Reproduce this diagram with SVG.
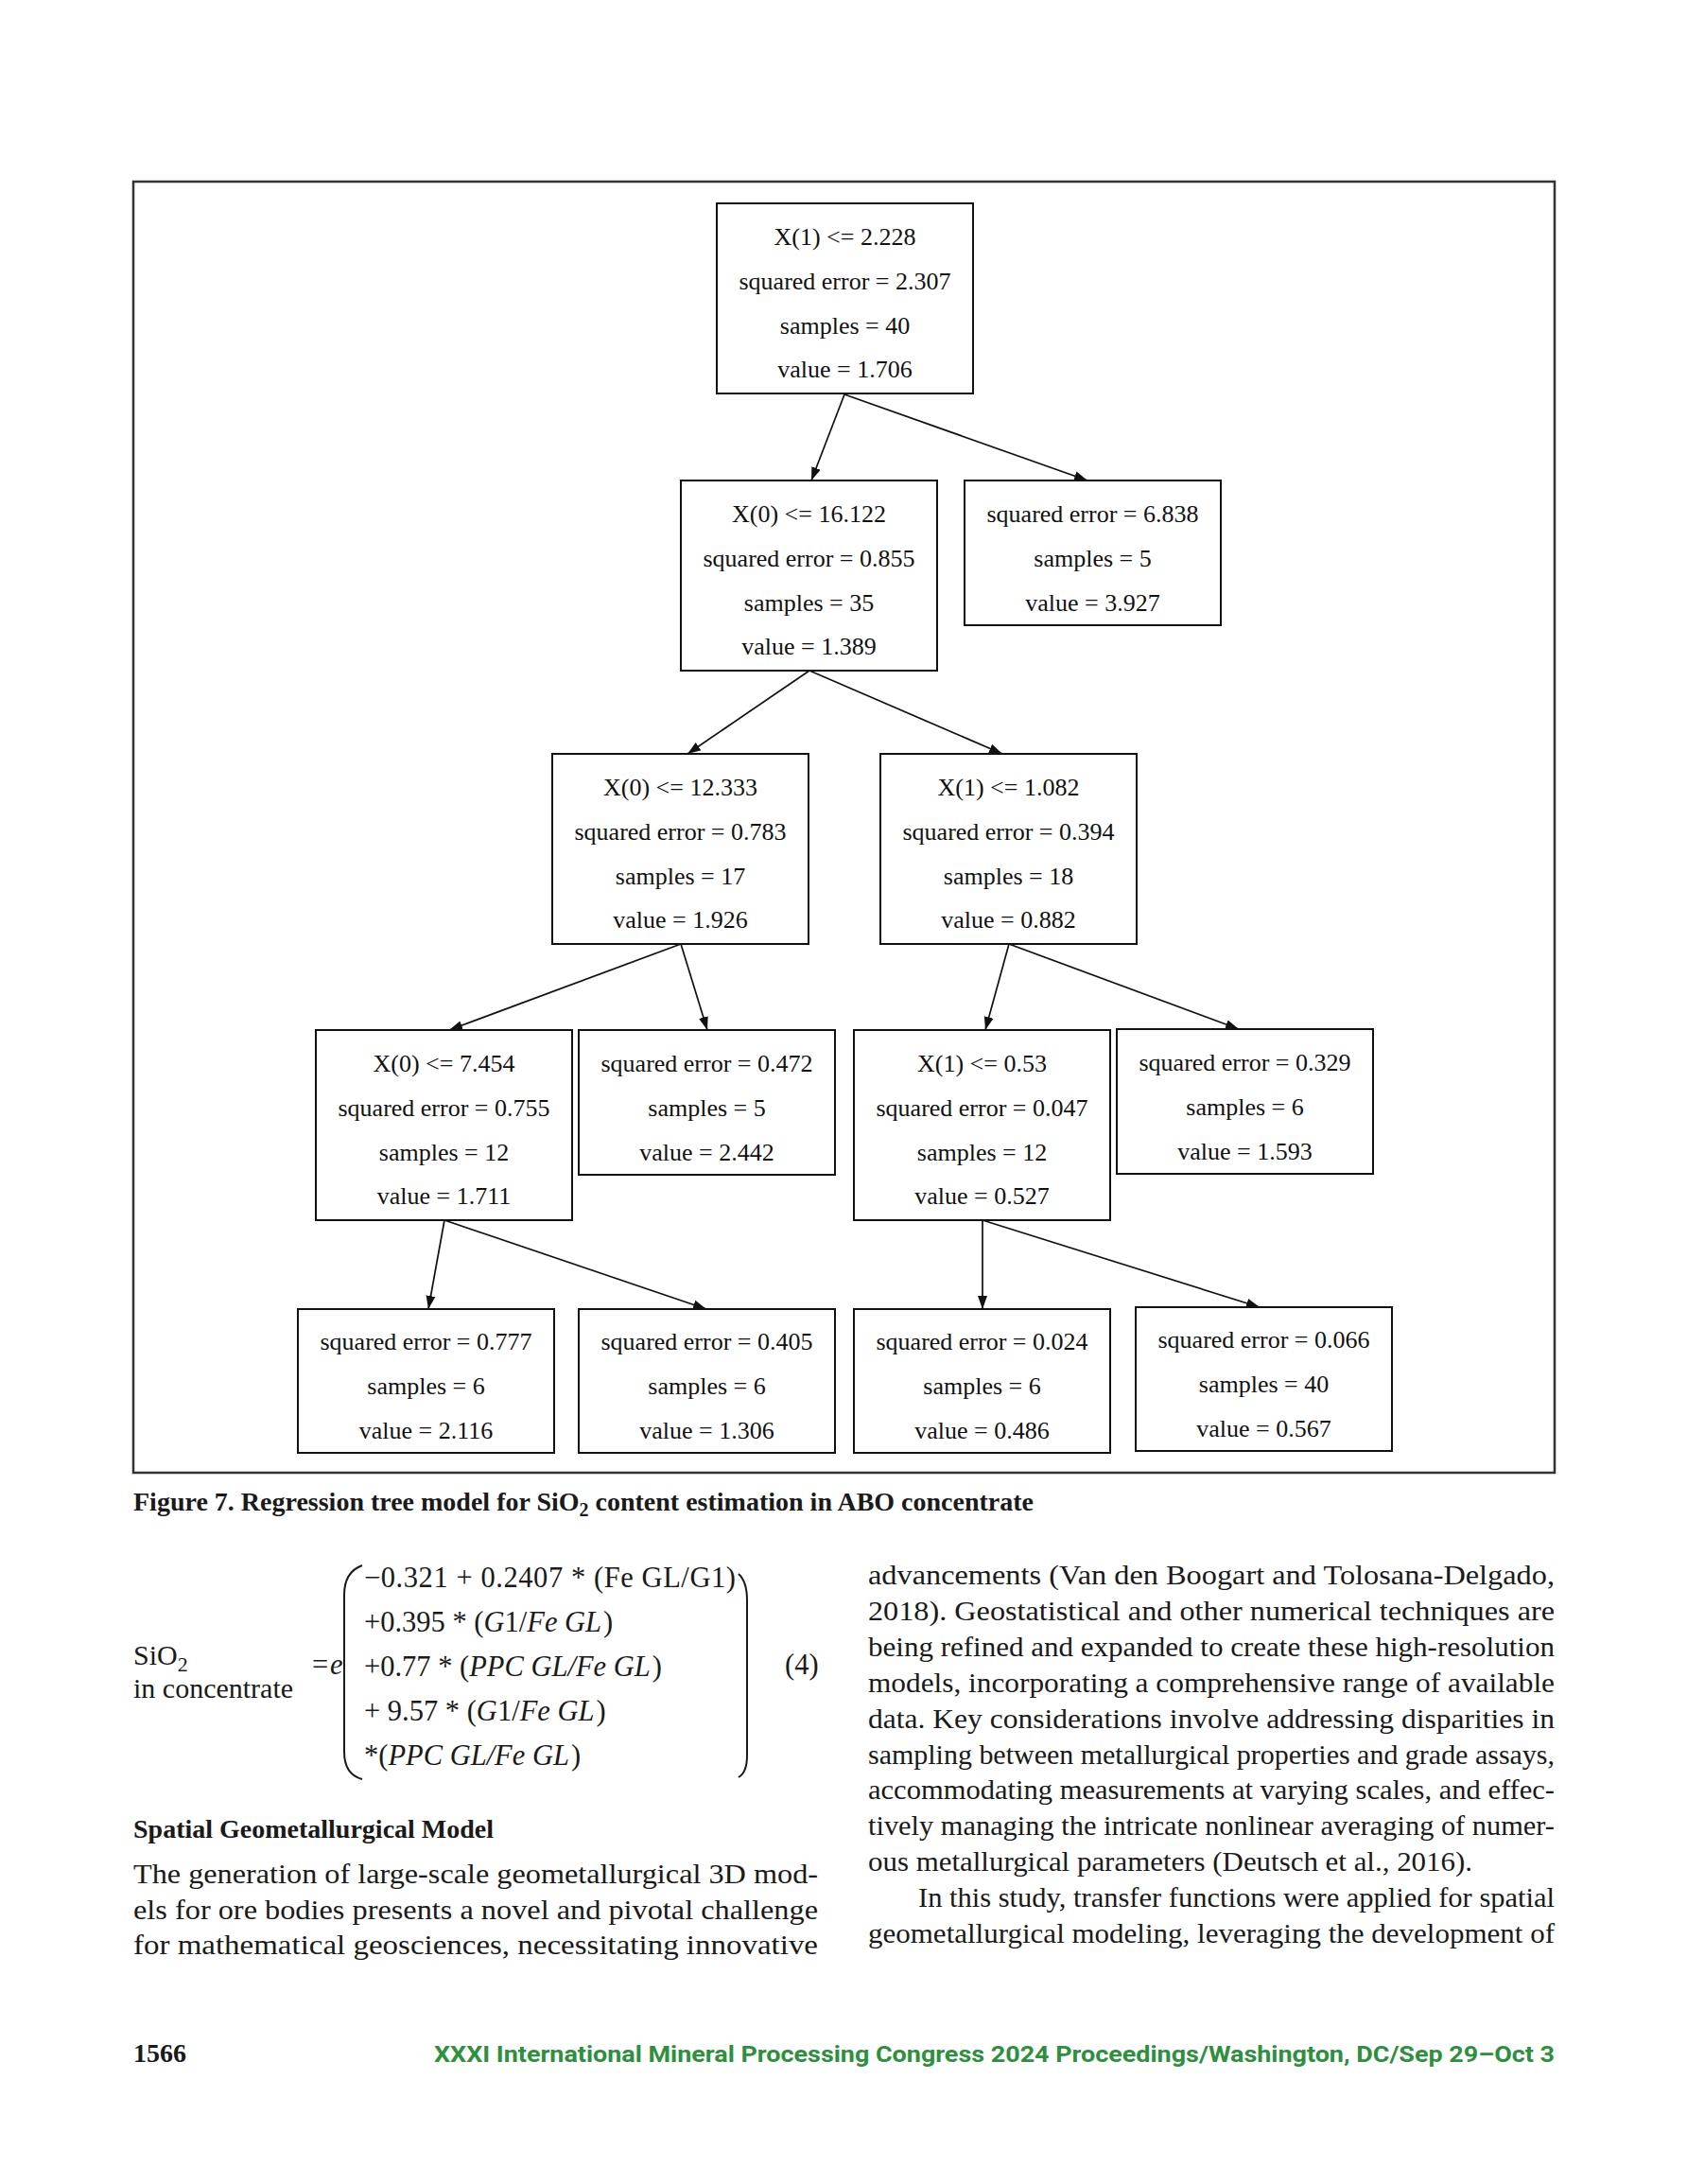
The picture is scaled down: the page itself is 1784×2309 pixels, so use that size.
<svg xmlns="http://www.w3.org/2000/svg" width="1784" height="2309" viewBox="0 0 1784 2309">
<style>
.frame{fill:none;stroke:#333;stroke-width:2.5}
.box{fill:#fff;stroke:#111;stroke-width:2}
.nt{font-family:"Liberation Serif","Times New Roman",serif;font-size:26px;fill:#111;text-anchor:middle}
.edge{stroke:#111;stroke-width:1.7;fill:none;marker-end:url(#arr)}
.cap{font-family:"Liberation Serif",serif;font-weight:bold;font-size:28px;fill:#1a1a1a}
.body{font-family:"Liberation Serif",serif;font-size:30px;fill:#1a1a1a}
.eq{font-family:"Liberation Serif",serif;font-size:30.5px;fill:#1a1a1a}
.it{font-style:italic}
.br{fill:none;stroke:#1a1a1a;stroke-width:2}
.foot{font-family:Roboto,"Liberation Sans",sans-serif;font-weight:bold;font-size:24px;fill:#2e8f3e}
</style>
<defs>
<marker id="arr" markerUnits="userSpaceOnUse" markerWidth="15" markerHeight="11" refX="14" refY="5.5" orient="auto">
<path d="M0,0.5 L14,5.5 L0,10.5 z" fill="#111"/>
</marker>
</defs>
<rect width="1784" height="2309" fill="#fff"/>
<rect class="frame" x="141" y="192" width="1503" height="1365"/>

<g id="connectors">
<line class="edge" x1="893" y1="417" x2="858" y2="508"/>
<line class="edge" x1="893" y1="417" x2="1150" y2="508"/>
<line class="edge" x1="856" y1="709" x2="727" y2="797"/>
<line class="edge" x1="856" y1="709" x2="1060" y2="797"/>
<line class="edge" x1="720" y1="998" x2="475" y2="1089"/>
<line class="edge" x1="720" y1="998" x2="748" y2="1089"/>
<line class="edge" x1="1067" y1="998" x2="1042" y2="1089"/>
<line class="edge" x1="1067" y1="998" x2="1310" y2="1088"/>
<line class="edge" x1="470" y1="1290" x2="453" y2="1384"/>
<line class="edge" x1="470" y1="1290" x2="747" y2="1384"/>
<line class="edge" x1="1039" y1="1290" x2="1039" y2="1384"/>
<line class="edge" x1="1039" y1="1290" x2="1332" y2="1382"/>
</g>

<g id="nodeA"><rect class="box" x="758" y="215" width="271" height="201"/>
<text class="nt" x="893.5" y="259">X(1) &lt;= 2.228</text><text class="nt" x="893.5" y="306">squared error = 2.307</text><text class="nt" x="893.5" y="353">samples = 40</text><text class="nt" x="893.5" y="399">value = 1.706</text></g>

<g id="nodeB"><rect class="box" x="720" y="508" width="271" height="201"/>
<text class="nt" x="855.5" y="552">X(0) &lt;= 16.122</text><text class="nt" x="855.5" y="599">squared error = 0.855</text><text class="nt" x="855.5" y="646">samples = 35</text><text class="nt" x="855.5" y="692">value = 1.389</text></g>

<g id="nodeC"><rect class="box" x="1020" y="508" width="271" height="153"/>
<text class="nt" x="1155.5" y="552">squared error = 6.838</text><text class="nt" x="1155.5" y="599">samples = 5</text><text class="nt" x="1155.5" y="646">value = 3.927</text></g>

<g id="nodeD"><rect class="box" x="584" y="797" width="271" height="201"/>
<text class="nt" x="719.5" y="841">X(0) &lt;= 12.333</text><text class="nt" x="719.5" y="888">squared error = 0.783</text><text class="nt" x="719.5" y="935">samples = 17</text><text class="nt" x="719.5" y="981">value = 1.926</text></g>

<g id="nodeE"><rect class="box" x="931" y="797" width="271" height="201"/>
<text class="nt" x="1066.5" y="841">X(1) &lt;= 1.082</text><text class="nt" x="1066.5" y="888">squared error = 0.394</text><text class="nt" x="1066.5" y="935">samples = 18</text><text class="nt" x="1066.5" y="981">value = 0.882</text></g>

<g id="nodeF"><rect class="box" x="334" y="1089" width="271" height="201"/>
<text class="nt" x="469.5" y="1133">X(0) &lt;= 7.454</text><text class="nt" x="469.5" y="1180">squared error = 0.755</text><text class="nt" x="469.5" y="1227">samples = 12</text><text class="nt" x="469.5" y="1273">value = 1.711</text></g>

<g id="nodeG"><rect class="box" x="612" y="1089" width="271" height="153"/>
<text class="nt" x="747.5" y="1133">squared error = 0.472</text><text class="nt" x="747.5" y="1180">samples = 5</text><text class="nt" x="747.5" y="1227">value = 2.442</text></g>

<g id="nodeH"><rect class="box" x="903" y="1089" width="271" height="201"/>
<text class="nt" x="1038.5" y="1133">X(1) &lt;= 0.53</text><text class="nt" x="1038.5" y="1180">squared error = 0.047</text><text class="nt" x="1038.5" y="1227">samples = 12</text><text class="nt" x="1038.5" y="1273">value = 0.527</text></g>

<g id="nodeI"><rect class="box" x="1181" y="1088" width="271" height="153"/>
<text class="nt" x="1316.5" y="1132">squared error = 0.329</text><text class="nt" x="1316.5" y="1179">samples = 6</text><text class="nt" x="1316.5" y="1226">value = 1.593</text></g>

<g id="nodeJ"><rect class="box" x="315" y="1384" width="271" height="152"/>
<text class="nt" x="450.5" y="1427">squared error = 0.777</text><text class="nt" x="450.5" y="1474">samples = 6</text><text class="nt" x="450.5" y="1521">value = 2.116</text></g>

<g id="nodeK"><rect class="box" x="612" y="1384" width="271" height="152"/>
<text class="nt" x="747.5" y="1427">squared error = 0.405</text><text class="nt" x="747.5" y="1474">samples = 6</text><text class="nt" x="747.5" y="1521">value = 1.306</text></g>

<g id="nodeL"><rect class="box" x="903" y="1384" width="271" height="152"/>
<text class="nt" x="1038.5" y="1427">squared error = 0.024</text><text class="nt" x="1038.5" y="1474">samples = 6</text><text class="nt" x="1038.5" y="1521">value = 0.486</text></g>

<g id="nodeM"><rect class="box" x="1201" y="1382" width="271" height="152"/>
<text class="nt" x="1336.5" y="1425">squared error = 0.066</text><text class="nt" x="1336.5" y="1472">samples = 40</text><text class="nt" x="1336.5" y="1519">value = 0.567</text></g>

<g id="caption">
<text class="cap" x="141" y="1597">Figure 7. Regression tree model for SiO<tspan font-size="20" dy="6">2</tspan><tspan dy="-6"> content estimation in ABO concentrate</tspan></text>
</g>

<g id="equation">
<text class="body" x="141" y="1760" font-size="31">SiO<tspan font-size="22" dy="7">2</tspan></text>
<text class="body" x="141" y="1795" font-size="31">in concentrate</text>
<text class="eq" x="330" y="1770">=</text>
<text class="eq it" x="349" y="1770">e</text>
<path class="br" d="M383,1655 Q364,1662 364,1686 L364,1852 Q364,1876 383,1881"/>
<path class="br" d="M781,1664 Q790,1672 790,1692 L790,1856 Q790,1874 781,1879"/>
<text class="eq" x="385" y="1678" textLength="393">−0.321 + 0.2407 * (Fe GL/G1)</text>
<text class="eq" x="385" y="1725">+0.395 * (<tspan class="it">G</tspan>1/<tspan class="it">Fe GL</tspan><tspan dx="2">)</tspan></text>
<text class="eq" x="385" y="1772">+0.77 * (<tspan class="it">PPC GL/Fe GL</tspan><tspan dx="2">)</tspan></text>
<text class="eq" x="385" y="1819">+ 9.57 * (<tspan class="it">G</tspan>1/<tspan class="it">Fe GL</tspan><tspan dx="2">)</tspan></text>
<text class="eq" x="385" y="1866">*(<tspan class="it">PPC GL/Fe GL</tspan><tspan dx="2">)</tspan></text>
<text class="eq" x="830" y="1770">(4)</text>
</g>

<g id="leftcol">
<text class="cap" x="141" y="1943" font-size="30">Spatial Geometallurgical Model</text>
<text class="body" x="141" y="1991" textLength="724" lengthAdjust="spacingAndGlyphs">The generation of large-scale geometallurgical 3D mod-</text>
<text class="body" x="141" y="2029" textLength="724" lengthAdjust="spacingAndGlyphs">els for ore bodies presents a novel and pivotal challenge</text>
<text class="body" x="141" y="2066" textLength="724" lengthAdjust="spacingAndGlyphs">for mathematical geosciences, necessitating innovative</text>
</g>

<g id="rightcol">
<text class="body" x="918" y="1675" textLength="726" lengthAdjust="spacingAndGlyphs">advancements (Van den Boogart and Tolosana-Delgado,</text>
<text class="body" x="918" y="1713" textLength="726" lengthAdjust="spacingAndGlyphs">2018). Geostatistical and other numerical techniques are</text>
<text class="body" x="918" y="1751" textLength="726" lengthAdjust="spacingAndGlyphs">being refined and expanded to create these high-resolution</text>
<text class="body" x="918" y="1789" textLength="726" lengthAdjust="spacingAndGlyphs">models, incorporating a comprehensive range of available</text>
<text class="body" x="918" y="1827" textLength="726" lengthAdjust="spacingAndGlyphs">data. Key considerations involve addressing disparities in</text>
<text class="body" x="918" y="1865" textLength="726" lengthAdjust="spacingAndGlyphs">sampling between metallurgical properties and grade assays,</text>
<text class="body" x="918" y="1902" textLength="726" lengthAdjust="spacingAndGlyphs">accommodating measurements at varying scales, and effec-</text>
<text class="body" x="918" y="1940" textLength="726" lengthAdjust="spacingAndGlyphs">tively managing the intricate nonlinear averaging of numer-</text>
<text class="body" x="918" y="1978" textLength="639" lengthAdjust="spacingAndGlyphs">ous metallurgical parameters (Deutsch et al., 2016).</text>
<text class="body" x="971" y="2016" textLength="673" lengthAdjust="spacingAndGlyphs">In this study, transfer functions were applied for spatial</text>
<text class="body" x="918" y="2054" textLength="726" lengthAdjust="spacingAndGlyphs">geometallurgical modeling, leveraging the development of</text>
</g>

<g id="footer">
<text class="cap" x="141" y="2180" font-size="27">1566</text>
<text class="foot" x="459" y="2180" textLength="1185" lengthAdjust="spacingAndGlyphs">XXXI International Mineral Processing Congress 2024 Proceedings/Washington, DC/Sep 29–Oct 3</text>
</g>
</svg>
